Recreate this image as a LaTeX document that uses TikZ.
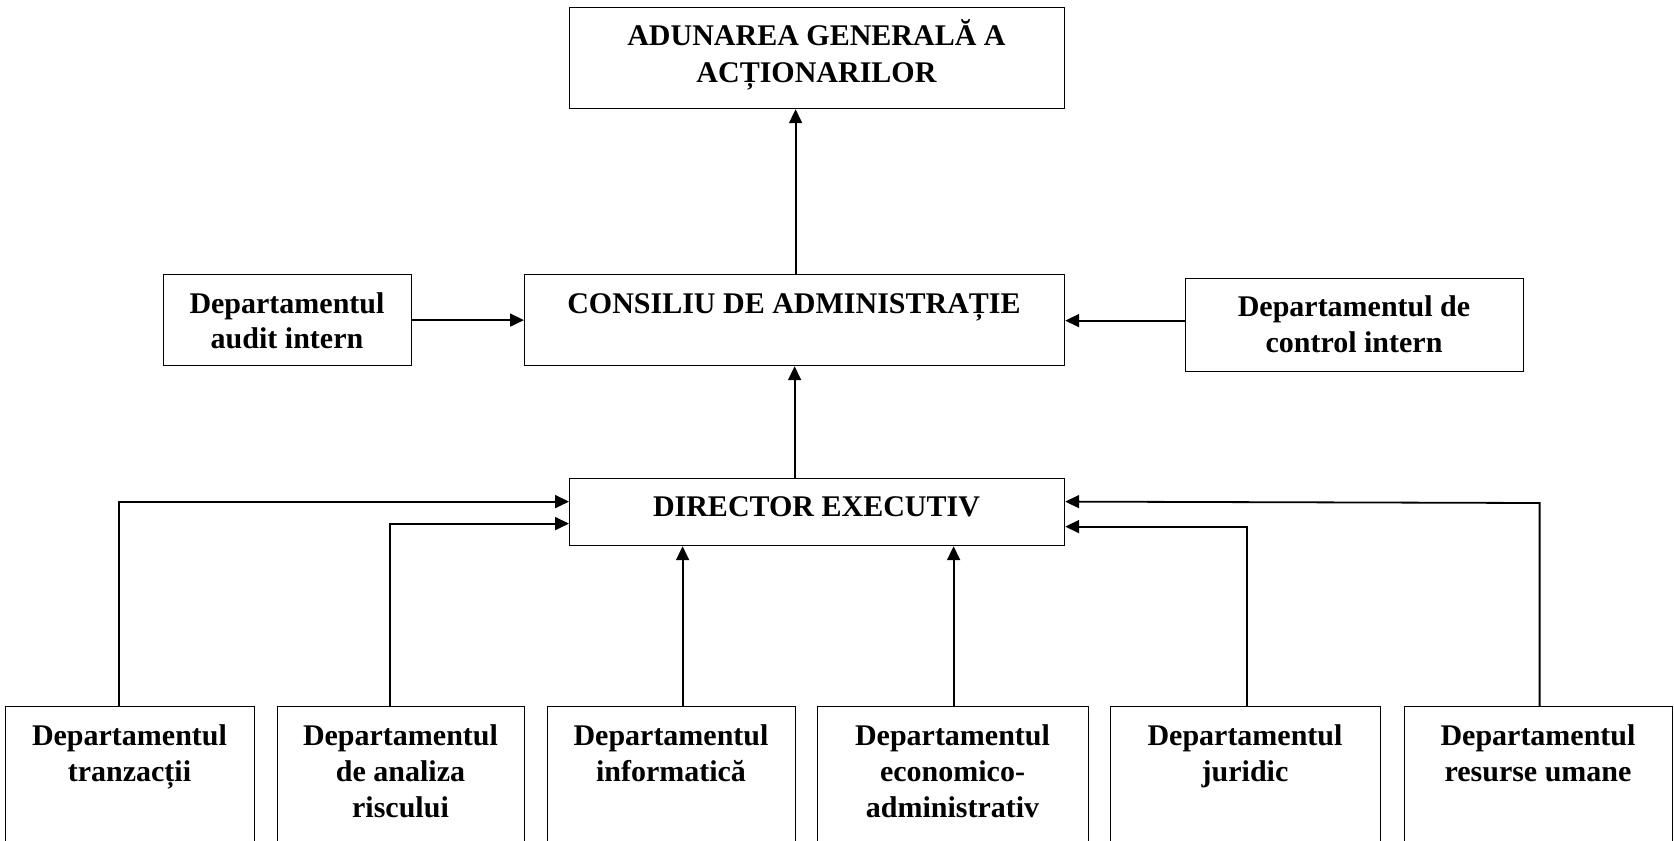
\documentclass[tikz,border=0pt]{standalone}
\usepackage{fontspec}
\setmainfont{Liberation Serif}
\usetikzlibrary{arrows.meta}
\tikzset{
  box/.style={draw=black, line width=1.2pt, rectangle, inner sep=0pt, anchor=north west},
  lbl/.style={align=center, inner sep=0pt, anchor=north, font=\fontsize{30}{36}\selectfont\bfseries},
  conn/.style={line width=1.8pt, -{Triangle[length=14pt,width=13pt]}},
}
\newcommand{\fl}{\rule{0pt}{28pt}}
\begin{document}
\begin{tikzpicture}[x=1pt,y=-1pt]
\clip (0,0) rectangle (1674,841);
\fill[white] (0,0) rectangle (1674,841);
% boxes
\node[box, minimum width=495pt, minimum height=101pt] (top) at (569,7) {};
\node[box, minimum width=540pt, minimum height=91pt] (ca) at (524,274) {};
\node[box, minimum width=248pt, minimum height=91pt] (audit) at (163,274) {};
\node[box, minimum width=338pt, minimum height=93pt] (ctrl) at (1185,278) {};
\node[box, minimum width=495pt, minimum height=67pt] (de) at (569,478) {};
\node[box, minimum width=249pt, minimum height=170pt] (b1) at (5,706) {};
\node[box, minimum width=247pt, minimum height=170pt] (b2) at (277,706) {};
\node[box, minimum width=248pt, minimum height=170pt] (b3) at (547,706) {};
\node[box, minimum width=271pt, minimum height=170pt] (b4) at (817,706) {};
\node[box, minimum width=270pt, minimum height=170pt] (b5) at (1110,706) {};
\node[box, minimum width=268pt, minimum height=170pt] (b6) at (1404,706) {};
% texts
\node[lbl, font=\fontsize{30}{37}\selectfont\bfseries] (ttop) at (816.5,17) {\fl ADUNAREA GENERALĂ A\\ACȚIONARILOR};
\node[lbl] (tca) at (794,285) {\fl CONSILIU DE ADMINISTRAȚIE};
\node[lbl, font=\fontsize{30}{35}\selectfont\bfseries] (taudit) at (287,285) {\fl Departamentul\\audit intern};
\node[lbl, font=\fontsize{30}{36}\selectfont\bfseries] (tctrl) at (1354,288) {\fl Departamentul de\\control intern};
\node[lbl] (tde) at (816.5,488) {\fl DIRECTOR EXECUTIV};
\node[lbl, font=\fontsize{30}{36}\selectfont\bfseries] (t1) at (129.5,717) {\fl Departamentul\\tranzacții};
\node[lbl, font=\fontsize{30}{36}\selectfont\bfseries] (t2) at (400.5,717) {\fl Departamentul\\de analiza\\riscului};
\node[lbl, font=\fontsize{30}{36}\selectfont\bfseries] (t3) at (671,717) {\fl Departamentul\\informatică};
\node[lbl, font=\fontsize{30}{36}\selectfont\bfseries] (t4) at (952.5,717) {\fl Departamentul\\economico-\\administrativ};
\node[lbl, font=\fontsize{30}{36}\selectfont\bfseries] (t5) at (1245,717) {\fl Departamentul\\juridic};
\node[lbl, font=\fontsize{30}{36}\selectfont\bfseries] (t6) at (1538,717) {\fl Departamentul\\resurse umane};
% connectors
\draw[conn] ([xshift=1pt]ca.north) -- ([xshift=1pt]ca.north |- top.south);
\draw[conn] (audit.east) -- (audit.east -| ca.west);
\draw[conn] ([yshift=4.5pt]ctrl.west) -- ([yshift=4.5pt]ctrl.west -| ca.east);
\draw[conn] (de.north -| ca.south) -- (ca.south);
\draw[conn] ([xshift=-11.5pt]b1.north) |- ([yshift=10.5pt]de.west);
\draw[conn] ([xshift=-11.5pt]b2.north) |- ([yshift=-11.5pt]de.west);
\draw[conn] ([xshift=11pt]b3.north) -- ([xshift=11pt]b3.north |- de.south);
\draw[conn] ([xshift=0.5pt]b4.north) -- ([xshift=0.5pt]b4.north |- de.south);
\draw[conn] ([xshift=1pt]b5.north) |- ([yshift=-14.5pt]de.east);
\draw[conn] ([xshift=1pt]b6.north) -- ++(0,-203) -- ([yshift=10.5pt]de.east);
\end{tikzpicture}
\end{document}
